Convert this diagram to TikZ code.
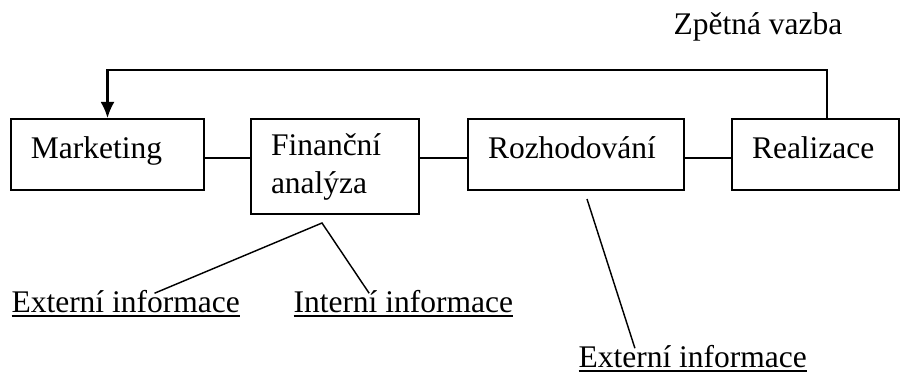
\documentclass[tikz,border=0pt]{standalone}
\usepackage{fontspec}
\setmainfont{Liberation Serif}
\usetikzlibrary{arrows.meta}

\tikzset{
  blok/.style={draw, line width=0.8pt, anchor=north west, align=left,
    inner xsep=7.6pt, inner ysep=0pt, font=\fontsize{12pt}{14.4pt}\selectfont},
  radek/.style={text height=14.9pt, text depth=12.2pt},
  popis/.style={anchor=base west, inner sep=0pt, font=\fontsize{12pt}{14.4pt}\selectfont},
  spoj/.style={line width=0.8pt},
  vazba/.style={line width=0.55pt}
}

\begin{document}
\begin{tikzpicture}[x=0.381pt, y=-0.381pt]
    \useasboundingbox (0,0) rectangle (911,372);

    % Bloky
    \node[blok, radek, text width=58.3pt] (mkt) at (10,118) {Marketing};
    \node[blok, text width=48.8pt, minimum height=36.2pt] (fin) at (250,118) {Finanční\\analýza};
    \node[blok, radek, text width=67.1pt] (roz) at (467,118) {Rozhodování};
    \node[blok, radek, text width=48.4pt] (real) at (731,118) {Realizace};

    % Popisky
    \node[popis] (zpet) at (673,35) {Zpětná vazba};
    \node[popis] (ext1) at (11,312) {\underline{Externí informace}};
    \node[popis] (int1) at (293,312) {\underline{Interní informace}};
    \node[popis] (ext2) at (578,367) {\underline{Externí informace}};

    % Body
    \coordinate (rada) at (0,158);
    \coordinate (fbtop) at (827,70);
    \coordinate (fork) at (322,223);
    \coordinate (rozdol) at (587,199);

    % Spoje
    \draw[spoj] (mkt.east |- rada) -- (fin.west |- rada);
    \draw[spoj] (fin.east |- rada) -- (roz.west |- rada);
    \draw[spoj] (roz.east |- rada) -- (real.west |- rada);
    \draw[spoj, -{Latex[length=6.1pt, width=5.3pt]}] (real.north -| fbtop) -- (fbtop) -| (mkt.north);

    % Informace
    \draw[vazba] ([xshift=11pt, yshift=-1.5pt]ext1.north) -- (fork) -- ([xshift=-13pt, yshift=-1.5pt]int1.north);
    \draw[vazba] (rozdol) -- ([xshift=-22pt, yshift=-1.5pt]ext2.north);
\end{tikzpicture}
\end{document}
